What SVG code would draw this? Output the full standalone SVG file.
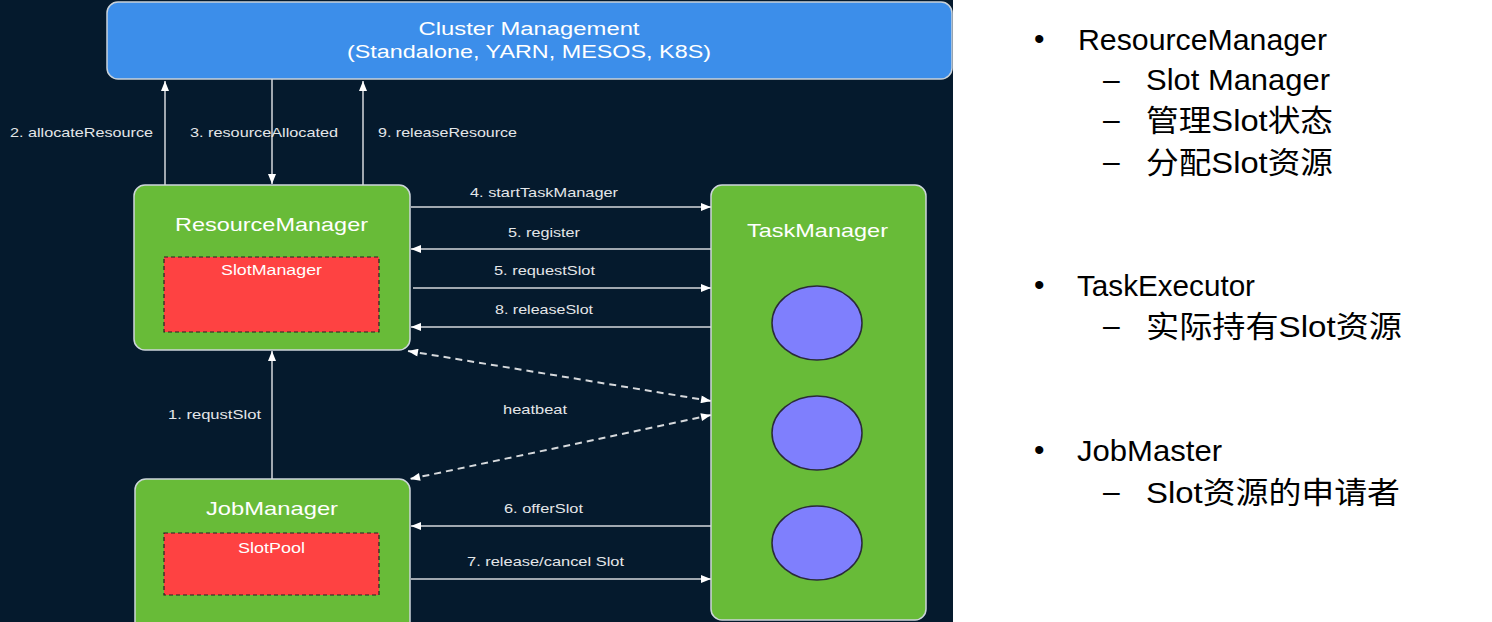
<svg xmlns="http://www.w3.org/2000/svg" width="1492" height="622" viewBox="0 0 1492 622">
<defs>
<style>
.lbl{font-family:"Liberation Sans",Arial,sans-serif;font-size:13px;fill:#e4e6e8;}
.ttl{font-family:"Liberation Sans",Arial,sans-serif;font-size:19px;fill:#ffffff;text-anchor:middle;}
.sub{font-family:"Liberation Sans",Arial,sans-serif;font-size:14px;fill:#ffffff;text-anchor:middle;}
.box{fill:#68bb38;stroke:#cdd5da;stroke-width:1.5;}
.red{fill:#fe4242;stroke:#222;stroke-width:1.2;stroke-dasharray:4 3;}
.slot{fill:#7f7ffd;stroke:#2a2a3a;stroke-width:1.5;}
.ln{stroke:#d6d9dc;stroke-width:1.5;fill:none;}
.dash{stroke:#d6d9dc;stroke-width:2;fill:none;stroke-dasharray:7 5;}
.rt{font-family:"Liberation Sans","Noto Sans CJK SC",sans-serif;font-size:30px;fill:#000000;}
</style>
<marker id="ah" viewBox="0 0 10 8" refX="10" refY="4" markerWidth="11" markerHeight="8" markerUnits="userSpaceOnUse" orient="auto-start-reverse">
<path d="M0,0 L10,4 L0,8 z" fill="#ffffff"/>
</marker>
</defs>
<rect x="0" y="0" width="1492" height="622" fill="#ffffff"/>
<rect x="0" y="0" width="953" height="622" fill="#051a2d"/>

<g id="cluster">
<rect x="107" y="2" width="845" height="77" rx="11" fill="#3c8eea" stroke="#c9d2da" stroke-width="1.5"/>
<text class="ttl" x="529" y="35" textLength="221" lengthAdjust="spacingAndGlyphs" style="font-size:18px">Cluster Management</text>
<text class="ttl" x="529" y="58" textLength="364" lengthAdjust="spacingAndGlyphs" style="font-size:18px">(Standalone, YARN, MESOS, K8S)</text>
</g>

<g id="resourcemanager">
<rect class="box" x="134" y="185" width="276" height="165" rx="11"/>
<text class="ttl" x="271.5" y="231" textLength="193" lengthAdjust="spacingAndGlyphs">ResourceManager</text>
<rect class="red" x="164" y="257" width="215" height="75"/>
<text class="sub" x="271.5" y="275" textLength="101" lengthAdjust="spacingAndGlyphs">SlotManager</text>
</g>

<g id="jobmanager">
<rect class="box" x="135" y="479" width="275" height="160" rx="11"/>
<text class="ttl" x="272" y="515" textLength="132" lengthAdjust="spacingAndGlyphs">JobManager</text>
<rect class="red" x="164" y="533" width="215" height="62"/>
<text class="sub" x="271.5" y="553" textLength="67" lengthAdjust="spacingAndGlyphs">SlotPool</text>
</g>

<g id="taskmanager">
<rect class="box" x="711" y="185" width="215" height="435" rx="11"/>
<text class="ttl" x="817.5" y="237" textLength="141" lengthAdjust="spacingAndGlyphs">TaskManager</text>
<ellipse class="slot" cx="817" cy="323" rx="45" ry="37"/>
<ellipse class="slot" cx="817" cy="433" rx="45" ry="37"/>
<ellipse class="slot" cx="817" cy="543" rx="45" ry="37"/>
</g>

<g id="connectors">
<line class="ln" x1="165" y1="185" x2="165" y2="81" marker-end="url(#ah)"/>
<line class="ln" x1="272" y1="79" x2="272" y2="184" marker-end="url(#ah)"/>
<line class="ln" x1="363" y1="185" x2="363" y2="81" marker-end="url(#ah)"/>
<line class="ln" x1="272" y1="479" x2="272" y2="351" marker-end="url(#ah)"/>
<line class="ln" x1="411" y1="207" x2="711" y2="207" marker-end="url(#ah)"/>
<line class="ln" x1="711" y1="249" x2="411" y2="249" marker-end="url(#ah)"/>
<line class="ln" x1="413" y1="288" x2="711" y2="288" marker-end="url(#ah)"/>
<line class="ln" x1="711" y1="327" x2="411" y2="327" marker-end="url(#ah)"/>
<line class="ln" x1="711" y1="526" x2="411" y2="526" marker-end="url(#ah)"/>
<line class="ln" x1="411" y1="579" x2="711" y2="579" marker-end="url(#ah)"/>
<line class="dash" x1="408" y1="351" x2="711" y2="401" marker-start="url(#ah)" marker-end="url(#ah)"/>
<line class="dash" x1="711" y1="415" x2="410" y2="479" marker-start="url(#ah)" marker-end="url(#ah)"/>

<text class="lbl" x="10" y="137" textLength="143" lengthAdjust="spacingAndGlyphs">2. allocateResource</text>
<text class="lbl" x="190" y="137" textLength="148" lengthAdjust="spacingAndGlyphs">3. resourceAllocated</text>
<text class="lbl" x="378" y="137" textLength="139" lengthAdjust="spacingAndGlyphs">9. releaseResource</text>
<text class="lbl" x="168" y="419" textLength="93" lengthAdjust="spacingAndGlyphs">1. requstSlot</text>
<text class="lbl" x="470" y="197" textLength="148" lengthAdjust="spacingAndGlyphs">4. startTaskManager</text>
<text class="lbl" x="508" y="237" textLength="72" lengthAdjust="spacingAndGlyphs">5. register</text>
<text class="lbl" x="494" y="275" textLength="101" lengthAdjust="spacingAndGlyphs">5. requestSlot</text>
<text class="lbl" x="495" y="314" textLength="98" lengthAdjust="spacingAndGlyphs">8. releaseSlot</text>
<text class="lbl" x="503" y="414" textLength="64" lengthAdjust="spacingAndGlyphs">heatbeat</text>
<text class="lbl" x="504" y="513" textLength="79" lengthAdjust="spacingAndGlyphs">6. offerSlot</text>
<text class="lbl" x="467" y="566" textLength="157" lengthAdjust="spacingAndGlyphs">7. release/cancel Slot</text>
</g>

<g id="notes">
<text class="rt" x="1034" y="49">•</text>
<text class="rt" x="1078" y="50" textLength="249" lengthAdjust="spacingAndGlyphs">ResourceManager</text>
<text class="rt" x="1103" y="90">–</text>
<text class="rt" x="1146" y="90" textLength="184" lengthAdjust="spacingAndGlyphs">Slot Manager</text>
<text class="rt" x="1103" y="130">–</text>
<text class="rt" x="1146" y="131" textLength="187" lengthAdjust="spacingAndGlyphs">管理Slot状态</text>
<text class="rt" x="1103" y="172">–</text>
<text class="rt" x="1146" y="173" textLength="187" lengthAdjust="spacingAndGlyphs">分配Slot资源</text>
<text class="rt" x="1034" y="295">•</text>
<text class="rt" x="1077" y="296" textLength="178" lengthAdjust="spacingAndGlyphs">TaskExecutor</text>
<text class="rt" x="1103" y="336">–</text>
<text class="rt" x="1146" y="337" textLength="256" lengthAdjust="spacingAndGlyphs">实际持有Slot资源</text>
<text class="rt" x="1034" y="460">•</text>
<text class="rt" x="1077" y="461" textLength="145" lengthAdjust="spacingAndGlyphs">JobMaster</text>
<text class="rt" x="1103" y="502">–</text>
<text class="rt" x="1146" y="503" textLength="254" lengthAdjust="spacingAndGlyphs">Slot资源的申请者</text>
</g>
</svg>
